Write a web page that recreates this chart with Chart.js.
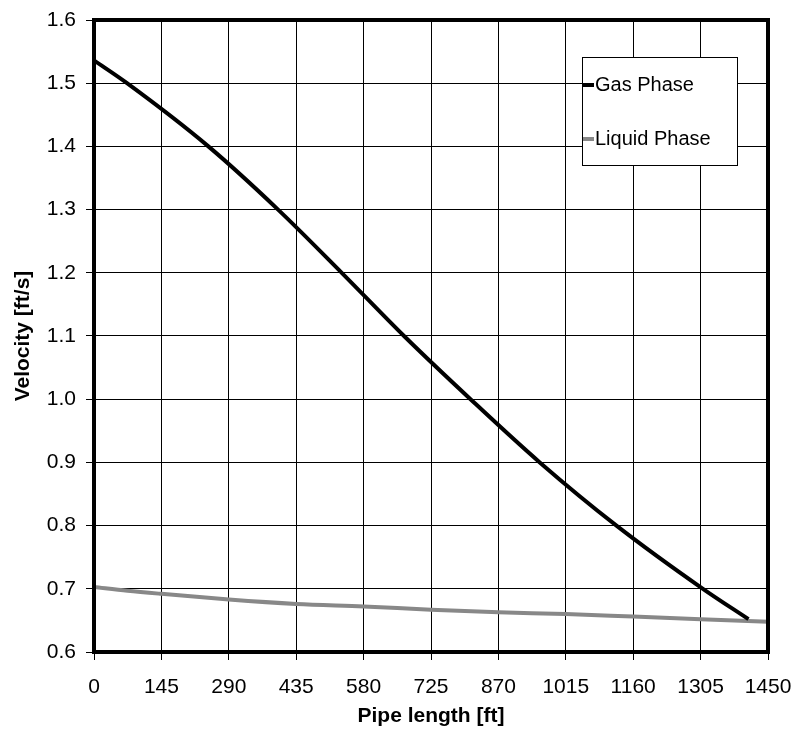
<!DOCTYPE html>
<html>
<head>
<meta charset="utf-8">
<script src="https://cdn.jsdelivr.net/npm/chart.js@4/dist/chart.umd.min.js"></script>
<style>
  html, body { margin: 0; padding: 0; background: #fff; }
  #wrap { width: 796px; height: 729px; }
</style>
</head>
<body>
<div id="wrap"><canvas id="velocityChart" width="796" height="729"></canvas></div>
<script>
// values
const gasLength = [0, 71, 246, 396, 533, 667, 810, 959, 1124, 1310, 1408];
const gasVelocity = [1.536, 1.500, 1.400, 1.300, 1.200, 1.100, 1.000, 0.900, 0.800, 0.700, 0.652];

const liquidLength = [0, 72, 145, 290, 435, 580, 725, 870, 1015, 1160, 1305, 1450];
const liquidVelocity = [0.703, 0.697, 0.692, 0.683, 0.676, 0.672, 0.667, 0.663, 0.660, 0.656, 0.652, 0.648];

const xTicks = [0, 145, 290, 435, 580, 725, 870, 1015, 1160, 1305, 1450];
const yTicks = [0.6, 0.7, 0.8, 0.9, 1.0, 1.1, 1.2, 1.3, 1.4, 1.5, 1.6];

const seriesNames = ['Gas Phase', 'Liquid Phase'];
const seriesColors = ['#000000', '#888888'];

const toPoints = (xs, ys) => xs.map((x, i) => ({ x: x, y: ys[i] }));

const FONT = "'Liberation Sans', Arial, sans-serif";

// frame round the plot area + legend box inside it
const framePlugin = {
    id: 'frame',
    afterDraw(chart) {
        const { ctx, chartArea: a } = chart;
        ctx.save();
        ctx.strokeStyle = '#000';
        ctx.lineWidth = 4;
        ctx.strokeRect(a.left, a.top, a.right - a.left, a.bottom - a.top);

        // legend
        const bx = a.right - 186, by = a.top + 37, bw = 155, bh = 108;
        ctx.fillStyle = '#fff';
        ctx.fillRect(bx, by, bw, bh);
        ctx.lineWidth = 1;
        ctx.strokeStyle = '#000';
        ctx.strokeRect(bx + 0.5, by + 0.5, bw, bh);
        ctx.font = '20px ' + FONT;
        ctx.textBaseline = 'middle';
        chart.data.datasets.forEach((ds, i) => {
            const ly = by + 28 + i * 54;
            ctx.strokeStyle = ds.borderColor;
            ctx.lineWidth = 4;
            ctx.beginPath();
            ctx.moveTo(bx + 1, ly);
            ctx.lineTo(bx + 12, ly);
            ctx.stroke();
            ctx.fillStyle = '#000';
            ctx.fillText(ds.label, bx + 13, ly);
        });
        ctx.restore();
    }
};

const ctx = document.getElementById('velocityChart').getContext('2d');
new Chart(ctx, {
    type: 'line',
    data: {
        datasets: [
            {
                label: seriesNames[0],
                data: toPoints(gasLength, gasVelocity),
                borderColor: seriesColors[0],
                borderWidth: 4,
                pointRadius: 0,
                cubicInterpolationMode: 'monotone',
                fill: false
            },
            {
                label: seriesNames[1],
                data: toPoints(liquidLength, liquidVelocity),
                borderColor: seriesColors[1],
                borderWidth: 4,
                pointRadius: 0,
                cubicInterpolationMode: 'monotone',
                fill: false
            }
        ]
    },
    options: {
        responsive: false,
        animation: false,
        layout: { padding: { top: 20, right: 28, left: 0, bottom: 0 } },
        plugins: {
            legend: { display: false },
            tooltip: { enabled: false }
        },
        scales: {
            x: {
                type: 'linear',
                min: 0,
                max: 1450,
                afterBuildTicks: s => { s.ticks = xTicks.map(v => ({ value: v })); },
                afterFit: s => { s.height = 77; s.paddingLeft = 0; s.paddingRight = 0; },
                grid: { color: '#000', lineWidth: 1, tickLength: 8, tickColor: '#000' },
                border: { display: false },
                ticks: {
                    color: '#000',
                    font: { family: FONT, size: 21 },
                    padding: 15,
                    maxRotation: 0,
                    autoSkip: false,
                    callback: v => String(v)
                },
                title: {
                    display: true,
                    text: 'Pipe length [ft]',
                    color: '#000',
                    font: { family: FONT, size: 21, weight: 'bold' },
                    padding: { top: 0, bottom: 0 }
                }
            },
            y: {
                min: 0.6,
                max: 1.6,
                afterBuildTicks: s => { s.ticks = yTicks.map(v => ({ value: v })); },
                afterFit: s => { s.width = 94; s.paddingTop = 0; s.paddingBottom = 0; },
                grid: { color: '#000', lineWidth: 1, tickLength: 8, tickColor: '#000' },
                border: { display: false },
                ticks: {
                    color: '#000',
                    font: { family: FONT, size: 21 },
                    padding: 10,
                    callback: v => v.toFixed(1)
                },
                title: {
                    display: true,
                    text: 'Velocity [ft/s]',
                    color: '#000',
                    font: { family: FONT, size: 21, weight: 'bold' },
                    padding: { top: 11, bottom: 0 }
                }
            }
        }
    },
    plugins: [framePlugin]
});
</script>
</body>
</html>
